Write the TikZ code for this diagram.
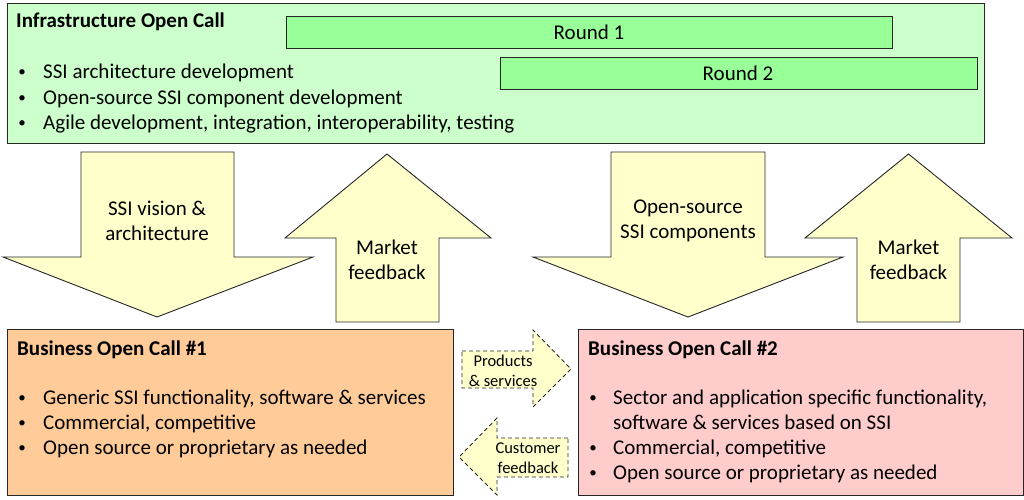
\documentclass[tikz,border=0pt]{standalone}
\usepackage{fontspec}
\setmainfont{Carlito}

\definecolor{infragreen}{HTML}{CCFFCC}
\definecolor{roundgreen}{HTML}{99FF99}
\definecolor{arrowyellow}{HTML}{FFFFCC}
\definecolor{bizorange}{HTML}{FFCC99}
\definecolor{bizpink}{HTML}{FFCCCC}

\tikzset{
  box/.style={draw=black!85, line width=1pt},
  bigarrow/.style={draw=black!85, line width=0.9pt, fill=arrowyellow},
  smallarrow/.style={draw=black!85, line width=0.9pt, fill=arrowyellow, dash pattern=on 4pt off 3pt},
  txt/.style={anchor=base west, inner sep=0pt},
  dot/.style={anchor=base, inner sep=0pt, font=\fontsize{15}{15}\selectfont},
  label/.style={align=center, inner sep=0pt},
  small/.style={font=\fontsize{16.5}{20}\selectfont},
  title/.style={anchor=base west, inner sep=0pt, font=\fontsize{21}{25}\selectfont\bfseries},
}

\begin{document}
\begin{tikzpicture}[x=1pt, y=-1pt, font=\fontsize{21}{25}\selectfont]
    \useasboundingbox (0,0) rectangle (1024,499);
    % infrastructure call
    \draw[box, fill=infragreen] (7,3) rectangle (984,143);
    \node[title] (infra) at (16,27) {Infrastructure Open Call};
    \draw[box, fill=roundgreen] (286,16) rectangle (892,48);
    \node (round1) at (589,32) {Round 1};
    \draw[box, fill=roundgreen] (500,57) rectangle (977,89);
    \node (round2) at (738,73) {Round 2};
    \node[dot] (i1dot) at (22,76) {\textbullet};
    \node[txt] (i1) at (43,78) {SSI architecture development};
    \node[dot] (i2dot) at (22,102) {\textbullet};
    \node[txt] (i2) at (43,104) {Open-source SSI component development};
    \node[dot] (i3dot) at (22,127) {\textbullet};
    \node[txt] (i3) at (43,129) {Agile development, integration, interoperability, testing};

    % big arrows
    \draw[bigarrow] (81,152) -- (234,152) -- (234,257) -- (313,257) -- (157,317) -- (3,257) -- (81,257) -- cycle;
    \node[label] (vision) at (157,220.5) {SSI vision \&\\architecture};
    \draw[bigarrow] (387,154) -- (491,238) -- (439,238) -- (439,322) -- (336,322) -- (336,238) -- (285,238) -- cycle;
    \node[label] (market1) at (387,259.5) {Market\\feedback};
    \draw[bigarrow] (611,152) -- (765,152) -- (765,257) -- (843,257) -- (688,317) -- (533,257) -- (611,257) -- cycle;
    \node[label] (oss) at (688,220.5) {Open-source\\SSI components};
    \draw[bigarrow] (908.5,154) -- (1012,238) -- (960,238) -- (960,322) -- (857,322) -- (857,238) -- (805,238) -- cycle;
    \node[label] (market2) at (908.5,259.5) {Market\\feedback};

    % business call 1
    \draw[box, fill=bizorange] (7,329) rectangle (453,495);
    \node[title] (biz1) at (17,355) {Business Open Call \#1};
    \node[dot] (b1dot) at (22,402) {\textbullet};
    \node[txt] (b1) at (43,404) {Generic SSI functionality, software \& services};
    \node[dot] (b2dot) at (22,427) {\textbullet};
    \node[txt] (b2) at (43,429) {Commercial, competitive};
    \node[dot] (b3dot) at (22,452) {\textbullet};
    \node[txt] (b3) at (43,454) {Open source or proprietary as needed};

    % business call 2
    \draw[box, fill=bizpink] (578,329) rectangle (1023,495);
    \node[title] (biz2) at (588,355) {Business Open Call \#2};
    \node[dot] (c1dot) at (593,402) {\textbullet};
    \node[txt] (c1) at (613,404) {Sector and application specific functionality,};
    \node[txt] (c1b) at (613,429) {software \& services based on SSI};
    \node[dot] (c2dot) at (593,452) {\textbullet};
    \node[txt] (c2) at (613,454) {Commercial, competitive};
    \node[dot] (c3dot) at (593,477) {\textbullet};
    \node[txt] (c3) at (613,479) {Open source or proprietary as needed};

    % exchange arrows
    \draw[smallarrow] (462,351) -- (533,351) -- (533,330) -- (571,369) -- (533,407) -- (533,388) -- (462,388) -- cycle;
    \node[label, small] (products) at (503,371) {Products\\\& services};
    \draw[smallarrow] (568,438) -- (497,438) -- (497,418) -- (459,457) -- (497,495) -- (497,477) -- (568,477) -- cycle;
    \node[label, small] (customer) at (528,458) {Customer\\feedback};
\end{tikzpicture}
\end{document}
